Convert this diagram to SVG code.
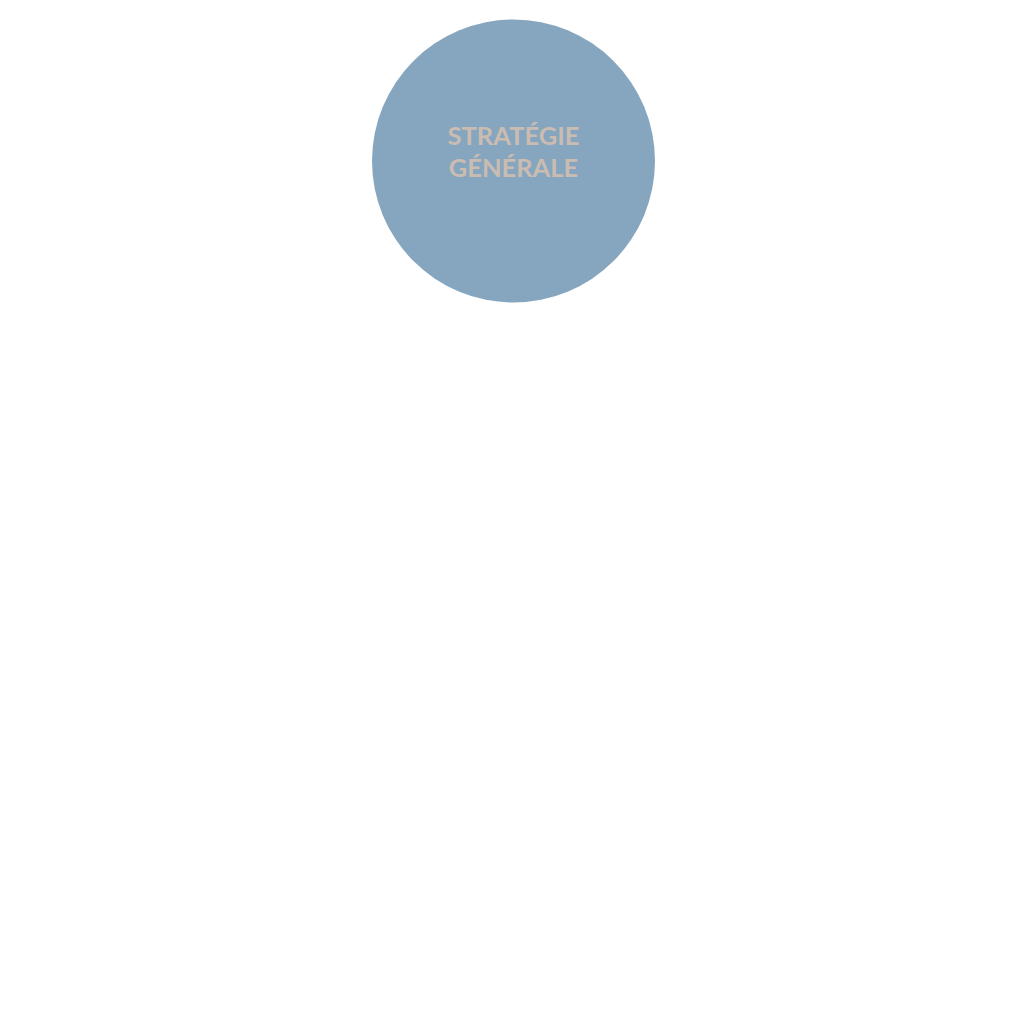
<svg xmlns="http://www.w3.org/2000/svg" width="1024" height="1024" viewBox="0 0 1024 1024">
<style>
.lbl{font-family:Lato,"Liberation Sans",sans-serif;font-weight:bold;font-size:25.5px;fill:#cbbcb2;text-anchor:middle}
</style>
<rect width="1024" height="1024" fill="#ffffff"/>
<g id="connectors"></g>
<g id="node-strategie">
<circle cx="513.5" cy="161" r="141.5" fill="#86a6bf"/>
<text class="lbl" x="513.5" y="145">STRATÉGIE</text>
<text class="lbl" x="513.5" y="176.5">GÉNÉRALE</text>
</g>
</svg>
